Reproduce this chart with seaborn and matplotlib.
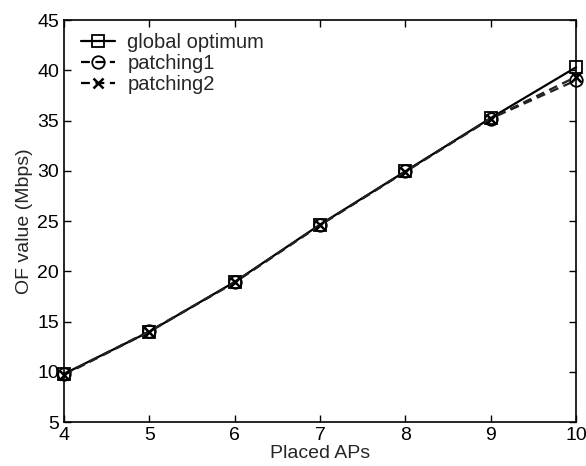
import numpy as np
import pandas as pd
import matplotlib
matplotlib.use("Agg")
import matplotlib.pyplot as plt
import seaborn as sns
from matplotlib.lines import Line2D

placed_aps = [4, 5, 6, 7, 8, 9, 10]
global_optimum = [9.8, 14.0, 18.95, 24.65, 29.95, 35.25, 40.3]
patching1 = [9.75, 14.05, 18.9, 24.6, 29.95, 35.2, 39.0]
patching2 = [9.7, 14.0, 18.9, 24.6, 29.9, 35.2, 39.35]
series_names = ["global optimum", "patching1", "patching2"]

df = pd.concat([
    pd.DataFrame({"x": placed_aps, "y": vals, "series": name})
    for name, vals in zip(series_names, [global_optimum, patching1, patching2])
])

sns.set_style("ticks")
plt.rcParams['font.family'] = ['Liberation Sans', 'DejaVu Sans']
FS = 14

fig = plt.figure(figsize=(5.86, 4.66), dpi=100)
ax = fig.add_axes([0.109, 0.094, 0.874, 0.863])

sns.lineplot(
    data=df, x="x", y="y", hue="series", style="series",
    palette={"global optimum": "black", "patching1": "#222222", "patching2": "#222222"},
    dashes={"global optimum": "", "patching1": (4, 2.5), "patching2": (4, 2.5)},
    markers={"global optimum": "s", "patching1": "o", "patching2": "X"},
    markersize=9, linewidth=1.6, ax=ax, legend=False,
)
for line, mk in zip(ax.get_lines(), ["s", "o", "x"]):
    line.set_marker(mk)
    line.set_markerfacecolor("none")
    line.set_markeredgecolor("black")
    line.set_markeredgewidth(1.3)
    line.set_clip_on(False)
    if mk == "s":
        line.set_markersize(8)
    if mk == "x":
        line.set_markersize(7)
        line.set_markeredgewidth(1.8)

handles = [
    Line2D([], [], color="black", lw=1.6, marker="s", mfc="none", mec="black", ms=8, mew=1.3),
    Line2D([], [], color="black", lw=1.6, ls=(0, (4, 2.5)), marker="o", mfc="none", mec="black", ms=9, mew=1.3),
    Line2D([], [], color="black", lw=1.6, ls=(0, (4, 2.5)), marker="x", mec="black", ms=7, mew=1.8),
]
ax.legend(handles, series_names, loc="upper left", frameon=False, fontsize=14.5,
          handlelength=1.7, handletextpad=0.6, borderaxespad=0.0, labelspacing=0.1,
          bbox_to_anchor=(0.018, 0.988))

ax.set_xlim(4, 10)
ax.set_ylim(5, 45)
ax.set_xticks(placed_aps)
ax.set_yticks(np.arange(5, 46, 5))
ax.set_xlabel("Placed APs", fontsize=FS, labelpad=0.5)
ax.set_ylabel("OF value (Mbps)", fontsize=FS, labelpad=3)
ax.tick_params(direction="in", top=True, right=True, labelsize=FS, length=5, width=1, colors="black")
ax.tick_params(axis="x", pad=3.5)
ax.tick_params(axis="y", pad=3.5)
for s in ax.spines.values():
    s.set_visible(True)
    s.set_linewidth(1.2)
    s.set_color("black")

fig.savefig("out.png", dpi=100)
